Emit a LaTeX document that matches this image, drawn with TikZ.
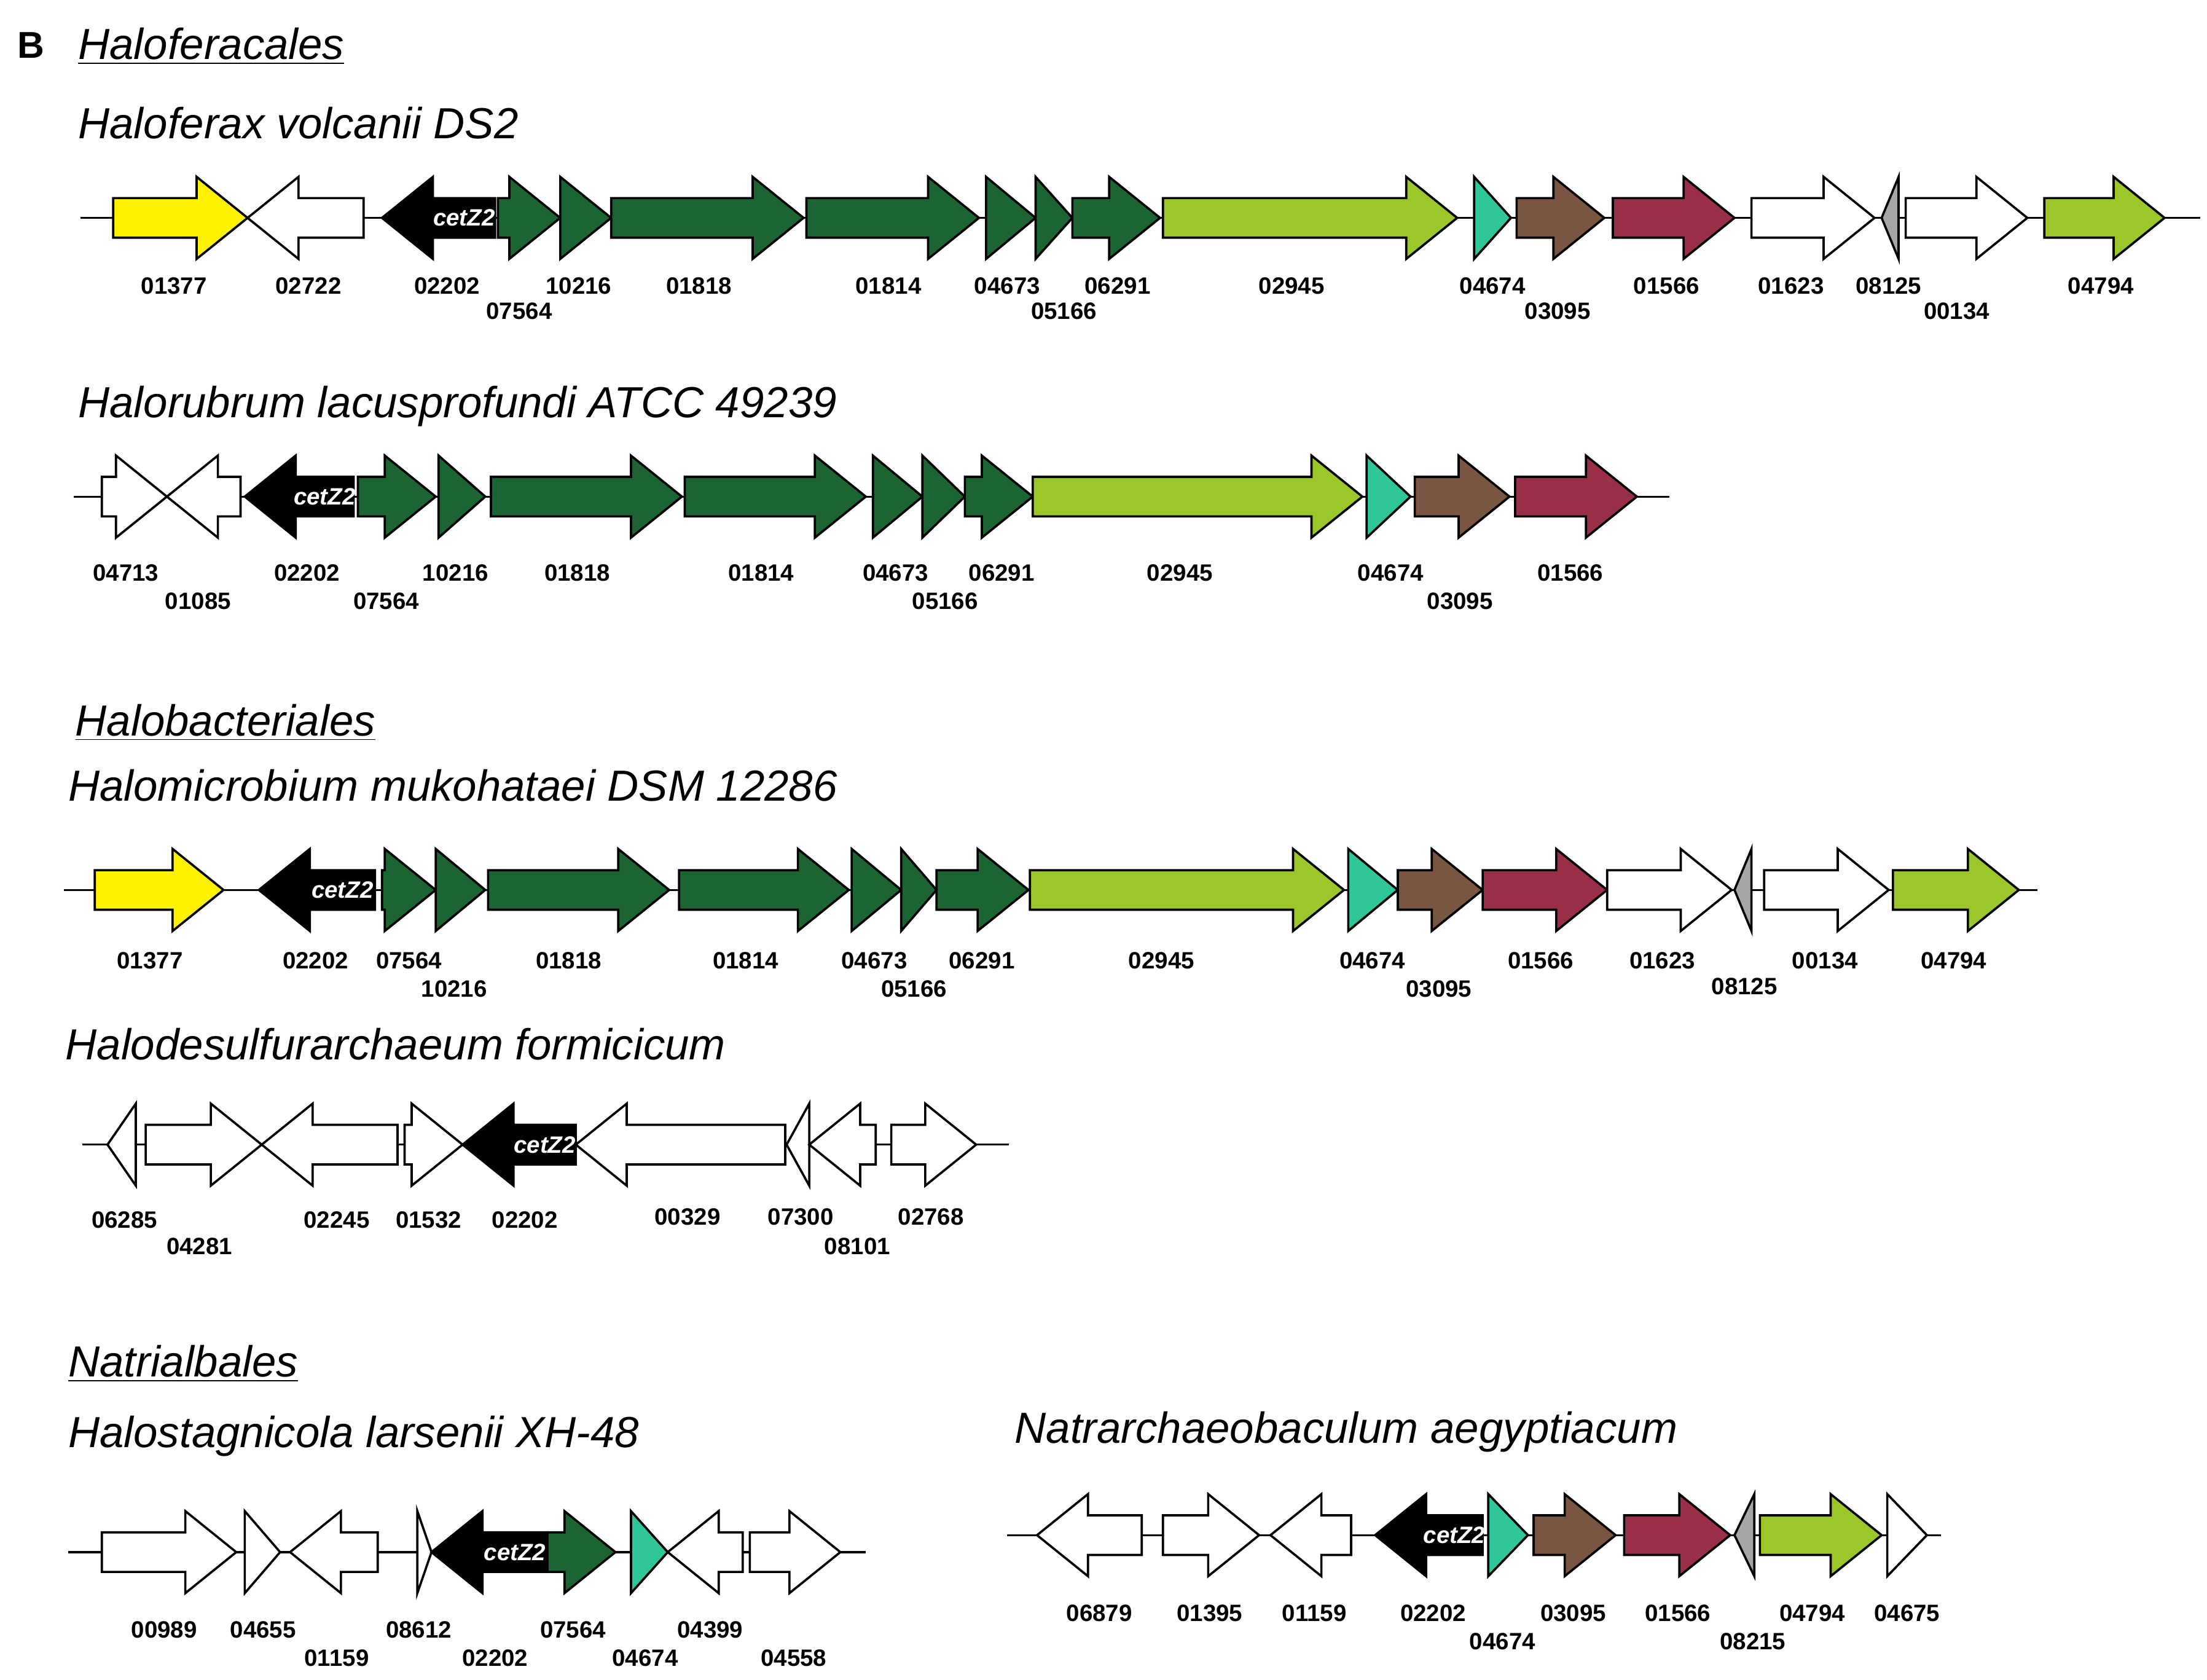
\documentclass[tikz,border=0pt]{standalone}
\usepackage{fontspec}
\setmainfont{Liberation Sans}
\definecolor{dg}{HTML}{1D6434}
\definecolor{lg}{HTML}{9CC72A}
\definecolor{tl}{HTML}{2FC79A}
\definecolor{br}{HTML}{7A5642}
\definecolor{mr}{HTML}{9A2F49}
\definecolor{gy}{HTML}{A6A6A6}
\newcommand\gn[5]{% x1 x2 py color dir
  \pgfmathsetmacro\hl{min(36,#2-#1)}%
  \if#5r
  \draw[gene,fill=#4] (#1,{-#3+14})--({#2-\hl},{-#3+14})--({#2-\hl},{-#3+29})--(#2,-#3)--({#2-\hl},{-#3-29})--({#2-\hl},{-#3-14})--(#1,{-#3-14})--cycle;
  \else
  \draw[gene,fill=#4] (#2,{-#3+14})--({#1+\hl},{-#3+14})--({#1+\hl},{-#3+29})--(#1,-#3)--({#1+\hl},{-#3-29})--({#1+\hl},{-#3-14})--(#2,{-#3-14})--cycle;
  \fi}
\newcommand\cz[3]{% x1 x2 py black left with label
  \gn{#1}{#2}{#3}{black}{l}%
  \node[cz] at ({(#1+36+#2)/2},-#3) {cetZ2};}
\newcommand\lb[3]{\node[lab] at (#1,-#2) {#3};}
\newcommand\bb[3]{\draw[thick] (#1,-#3)--(#2,-#3);}
\begin{document}
\begin{tikzpicture}[x=0.2mm,y=0.2mm,
  gene/.style={draw=black,line width=0.9pt,line join=miter},
  lab/.style={font=\fontsize{9.5}{11}\selectfont\bfseries,inner sep=0},
  cz/.style={font=\fontsize{9.5}{11}\selectfont\bfseries\itshape,text=white,inner sep=0},
  ttl/.style={font=\fontsize{17.5}{20}\selectfont\itshape,anchor=base west,inner sep=0},
  ord/.style={font=\fontsize{17.5}{20}\selectfont\itshape,anchor=base west,inner sep=0}]
\useasboundingbox (0,0) rectangle (1560,-1187);
% headers
\node[font=\fontsize{15}{18}\selectfont\bfseries,anchor=base west,inner sep=0] (B) at (12,-41) {B};
\node[ord] (o1) at (55,-42) {\underline{Haloferacales}};
\node[ttl] (t1) at (55,-98) {Haloferax volcanii DS2};
\node[ttl] (t2) at (55,-295) {Halorubrum lacusprofundi ATCC 49239};
\node[ord] (o2) at (53,-520) {\underline{Halobacteriales}};
\node[ttl] (t3) at (48,-566) {Halomicrobium mukohataei DSM 12286};
\node[ttl] (t4) at (46,-749) {Halodesulfurarchaeum formicicum};
\node[ord] (o3) at (48,-973) {\underline{Natrialbales}};
\node[ttl] (t5) at (48,-1023) {Halostagnicola larsenii XH-48};
\node[ttl] (t6) at (717,-1020) {Natrarchaeobaculum aegyptiacum};
% row 1
\bb{57}{1555}{154}
\gn{80}{175}{154}{yellow}{r}
\gn{175}{257}{154}{white}{l}
\cz{270}{350}{154}
\gn{352}{396}{154}{dg}{r}
\gn{396}{432}{154}{dg}{r}
\gn{432}{568}{154}{dg}{r}
\gn{570}{692}{154}{dg}{r}
\gn{697}{732}{154}{dg}{r}
\gn{732}{758}{154}{dg}{r}
\gn{758}{820}{154}{dg}{r}
\gn{822}{1030}{154}{lg}{r}
\gn{1042}{1068}{154}{tl}{r}
\gn{1072}{1134}{154}{br}{r}
\gn{1140}{1226}{154}{mr}{r}
\gn{1238}{1325}{154}{white}{r}
\gn{1330}{1342}{154}{gy}{l}
\gn{1347}{1433}{154}{white}{r}
\gn{1445}{1530}{154}{lg}{r}
\lb{123}{202}{01377}\lb{218}{202}{02722}\lb{316}{202}{02202}\lb{367}{220}{07564}
\lb{409}{202}{10216}\lb{494}{202}{01818}\lb{628}{202}{01814}\lb{712}{202}{04673}
\lb{752}{220}{05166}\lb{790}{202}{06291}\lb{913}{202}{02945}\lb{1055}{202}{04674}
\lb{1101}{220}{03095}\lb{1178}{202}{01566}\lb{1266}{202}{01623}\lb{1335}{202}{08125}
\lb{1383}{220}{00134}\lb{1485}{202}{04794}
% row 2
\bb{52}{1180}{351}
\gn{72}{118}{351}{white}{r}
\gn{118}{170}{351}{white}{l}
\cz{173}{250}{351}
\gn{253}{308}{351}{dg}{r}
\gn{310}{343}{351}{dg}{r}
\gn{347}{482}{351}{dg}{r}
\gn{484}{612}{351}{dg}{r}
\gn{617}{652}{351}{dg}{r}
\gn{652}{682}{351}{dg}{r}
\gn{682}{730}{351}{dg}{r}
\gn{730}{963}{351}{lg}{r}
\gn{966}{997}{351}{tl}{r}
\gn{1000}{1067}{351}{br}{r}
\gn{1071}{1157}{351}{mr}{r}
\lb{89}{405}{04713}\lb{140}{425}{01085}\lb{217}{405}{02202}\lb{273}{425}{07564}
\lb{322}{405}{10216}\lb{408}{405}{01818}\lb{538}{405}{01814}\lb{633}{405}{04673}
\lb{668}{425}{05166}\lb{708}{405}{06291}\lb{834}{405}{02945}\lb{983}{405}{04674}
\lb{1032}{425}{03095}\lb{1110}{405}{01566}
% row 3
\bb{45}{1440}{629}
\gn{67}{158}{629}{yellow}{r}
\cz{183}{265}{629}
\gn{270}{308}{629}{dg}{r}
\gn{308}{343}{629}{dg}{r}
\gn{345}{473}{629}{dg}{r}
\gn{480}{600}{629}{dg}{r}
\gn{602}{637}{629}{dg}{r}
\gn{637}{662}{629}{dg}{r}
\gn{662}{727}{629}{dg}{r}
\gn{728}{950}{629}{lg}{r}
\gn{953}{988}{629}{tl}{r}
\gn{988}{1048}{629}{br}{r}
\gn{1048}{1136}{629}{mr}{r}
\gn{1136}{1224}{629}{white}{r}
\gn{1226}{1238}{629}{gy}{l}
\gn{1247}{1335}{629}{white}{r}
\gn{1338}{1427}{629}{lg}{r}
\lb{106}{679}{01377}\lb{223}{679}{02202}\lb{289}{679}{07564}\lb{321}{699}{10216}
\lb{402}{679}{01818}\lb{527}{679}{01814}\lb{618}{679}{04673}\lb{646}{699}{05166}
\lb{694}{679}{06291}\lb{821}{679}{02945}\lb{970}{679}{04674}\lb{1017}{699}{03095}
\lb{1089}{679}{01566}\lb{1175}{679}{01623}\lb{1233}{697}{08125}\lb{1290}{679}{00134}
\lb{1381}{679}{04794}
% row 4
\bb{58}{713}{809}
\gn{76}{96}{809}{white}{l}
\gn{103}{185}{809}{white}{r}
\gn{185}{281}{809}{white}{l}
\gn{286}{327}{809}{white}{r}
\cz{327}{407}{809}
\gn{407}{555}{809}{white}{l}
\gn{556}{572}{809}{white}{l}
\gn{572}{619}{809}{white}{l}
\gn{630}{690}{809}{white}{r}
\lb{88}{862}{06285}\lb{141}{881}{04281}\lb{238}{862}{02245}\lb{303}{862}{01532}
\lb{371}{862}{02202}\lb{486}{860}{00329}\lb{566}{860}{07300}\lb{606}{881}{08101}
\lb{658}{860}{02768}
% row 5
\bb{48}{612}{1097}
\gn{72}{167}{1097}{white}{r}
\gn{173}{198}{1097}{white}{r}
\gn{205}{267}{1097}{white}{l}
\gn{295}{305}{1097}{white}{r}
\cz{305}{387}{1097}
\gn{387}{435}{1097}{dg}{r}
\gn{446}{472}{1097}{tl}{r}
\gn{472}{525}{1097}{white}{l}
\gn{530}{594}{1097}{white}{r}
\lb{116}{1152}{00989}\lb{186}{1152}{04655}\lb{238}{1172}{01159}\lb{296}{1152}{08612}
\lb{350}{1172}{02202}\lb{405}{1152}{07564}\lb{456}{1172}{04674}\lb{502}{1152}{04399}
\lb{561}{1172}{04558}
% row 6
\bb{712}{1372}{1085}
\gn{733}{807}{1085}{white}{l}
\gn{822}{890}{1085}{white}{r}
\gn{898}{955}{1085}{white}{l}
\cz{972}{1048}{1085}
\gn{1052}{1080}{1085}{tl}{r}
\gn{1084}{1142}{1085}{br}{r}
\gn{1148}{1223}{1085}{mr}{r}
\gn{1226}{1240}{1085}{gy}{l}
\gn{1244}{1330}{1085}{lg}{r}
\gn{1334}{1362}{1085}{white}{r}
\lb{777}{1140}{06879}\lb{855}{1140}{01395}\lb{929}{1140}{01159}\lb{1013}{1140}{02202}
\lb{1062}{1160}{04674}\lb{1112}{1140}{03095}\lb{1186}{1140}{01566}\lb{1239}{1160}{08215}
\lb{1281}{1140}{04794}\lb{1348}{1140}{04675}
\end{tikzpicture}
\end{document}
